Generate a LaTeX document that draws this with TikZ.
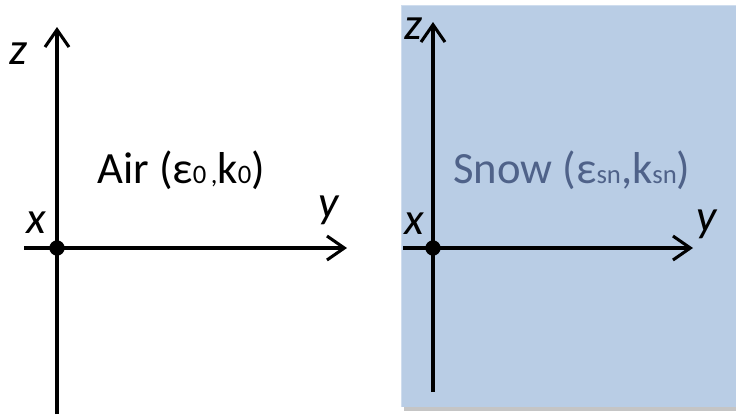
\documentclass[tikz,border=0pt]{standalone}
\usepackage{fontspec}
\setmainfont{Carlito}
\usetikzlibrary{positioning, arrows.meta}
\definecolor{csnow}{HTML}{B9CDE5}
\definecolor{cedge}{HTML}{CFDDEE}
\definecolor{ctxt}{HTML}{4F6289}
\newcommand{\lo}[1]{{\fontsize{20}{20}\selectfont #1}}
\tikzset{
  ax/.style={line width=2.3pt, -{Straight Barb[length=13pt,width=18pt]}},
  lbl/.style={font=\fontsize{34}{34}\selectfont\itshape, inner sep=0pt},
  med/.style={font=\fontsize{33.5}{34}\selectfont, inner sep=0pt, anchor=base west},
  dot/.style={circle, fill=black, inner sep=0pt, minimum size=11.5pt},
}

\begin{document}
\begin{tikzpicture}[x=0.75pt, y=-0.75pt]
  \useasboundingbox (0,0) rectangle (736,419);
  % snow half-space
  \fill[black!45, opacity=.5] (404,8) rectangle (740,411);
  \fill[csnow] (401,5) rectangle (740,407);
  \draw[cedge, line width=1pt] (401.5,406.5) -- (401.5,5.5) -- (740,5.5);
  % air side
  \coordinate (oa) at (57,248);
  \coordinate (za) at (57,27);
  \coordinate (ba) at (57,414);
  \coordinate (la) at (24,248);
  \coordinate (ya) at (347,248);
  \draw[ax] (ba) -- (za);
  \draw[ax] (la) -- (ya);
  \node[dot] (da) at (oa) {};
  \node[lbl] (lza) at (18,54) {z};
  \node[lbl] (lxa) at (36,223) {x};
  \node[lbl] (lya) at (329,210) {y};
  \node[med] (air) at (97,183) {Air (ε\lo{0\,,}k\lo{0})};
  % snow side
  \coordinate (os) at (433,248);
  \coordinate (zs) at (433,22);
  \coordinate (bs) at (433,392);
  \coordinate (ls) at (403,248);
  \coordinate (ys) at (693,248);
  \draw[ax] (bs) -- (zs);
  \draw[ax] (ls) -- (ys);
  \node[dot] (ds) at (os) {};
  \node[lbl] (lzs) at (413,29) {z};
  \node[lbl] (lxs) at (414,224) {x};
  \node[lbl] (lys) at (707,224) {y};
  \node[med, text=ctxt] (snow) at (453,183) {Snow (ε\lo{sn},k\lo{sn})};
\end{tikzpicture}
\end{document}
